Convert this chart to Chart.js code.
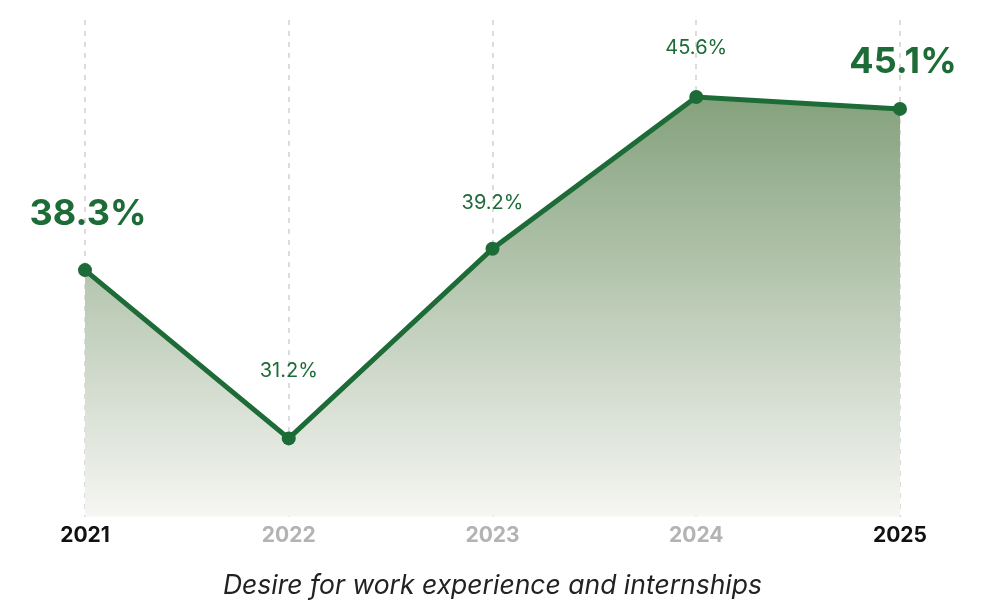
<!DOCTYPE html>
<html>
<head>
<meta charset="utf-8">
<script src="https://cdn.jsdelivr.net/npm/chart.js@4.4.1/dist/chart.umd.min.js"></script>
<style>
  html, body { margin: 0; padding: 0; background: #fff; }
  #wrap { width: 988px; height: 601px; position: relative; }
</style>
</head>
<body>
<div id="wrap"><canvas id="chart"></canvas></div>
<script>
var years = ['2021', '2022', '2023', '2024', '2025'];
var values = [38.3, 31.2, 39.2, 45.6, 45.1];
var highlighted = [true, false, false, false, true];
var chartTitle = 'Desire for work experience and internships';

(function () {
    var green = '#1d6b37';
    var fontFamily = 'Inter, "Noto Sans", sans-serif';
    // Abstand der Beschriftung über dem Punkt (px).
    var labelOffsets = [56, 67, 46, 49, 47];

    var valueLabels = {
        id: 'valueLabels',
        afterDatasetsDraw: function (chart) {
            var ctx = chart.ctx;
            var meta = chart.getDatasetMeta(0);
            ctx.save();
            ctx.textAlign = 'center';
            ctx.textBaseline = 'middle';
            ctx.fillStyle = green;
            meta.data.forEach(function (pt, i) {
                var big = highlighted[i];
                ctx.font = (big ? '700 36px ' : '400 20px ') + fontFamily;
                ctx.fillText(values[i].toFixed(1) + '%', pt.x + (big ? 3 : 0), pt.y - labelOffsets[i]);
            });
            ctx.restore();
        }
    };

    new Chart(document.getElementById('chart'), {
        type: 'line',
        data: {
            labels: years,
            datasets: [{
                data: values,
                borderColor: green,
                borderWidth: 5,
                pointRadius: 7,
                pointHoverRadius: 7,
                pointBackgroundColor: green,
                pointBorderWidth: 0,
                tension: 0,
                clip: false,
                fill: 'start',
                backgroundColor: function (c) {
                    var area = c.chart.chartArea;
                    if (!area) { return 'rgba(0,0,0,0)'; }
                    var g = c.chart.ctx.createLinearGradient(0, area.top + 70, 0, area.bottom);
                    g.addColorStop(0, 'rgba(130,160,122,1)');
                    g.addColorStop(1, 'rgba(246,246,243,1)');
                    return g;
                }
            }]
        },
        options: {
            responsive: true,
            maintainAspectRatio: false,
            animation: false,
            layout: { padding: { left: 85, right: 88, top: 20, bottom: 0 } },
            plugins: {
                legend: { display: false },
                tooltip: { enabled: false },
                title: {
                    display: true,
                    position: 'bottom',
                    text: chartTitle,
                    color: '#222',
                    font: { family: fontFamily, size: 26.5, style: 'italic', weight: '400', lineHeight: 1.1 },
                    padding: { top: 18, bottom: 0 }
                }
            },
            scales: {
                x: {
                    offset: false,
                    border: { display: false, dash: [5, 6] },
                    grid: {
                        display: true,
                        color: '#dcdcdc',
                        lineWidth: 2,
                        drawTicks: false
                    },
                    ticks: {
                        padding: 6,
                        font: { family: fontFamily, size: 21, weight: '700' },
                        color: function (c) {
                            return highlighted[c.index] ? '#111111' : '#b3b3b3';
                        }
                    }
                },
                y: {
                    display: false,
                    min: 27.9,
                    max: 48.85
                }
            }
        },
        plugins: [valueLabels]
    });
})();
</script>
</body>
</html>
